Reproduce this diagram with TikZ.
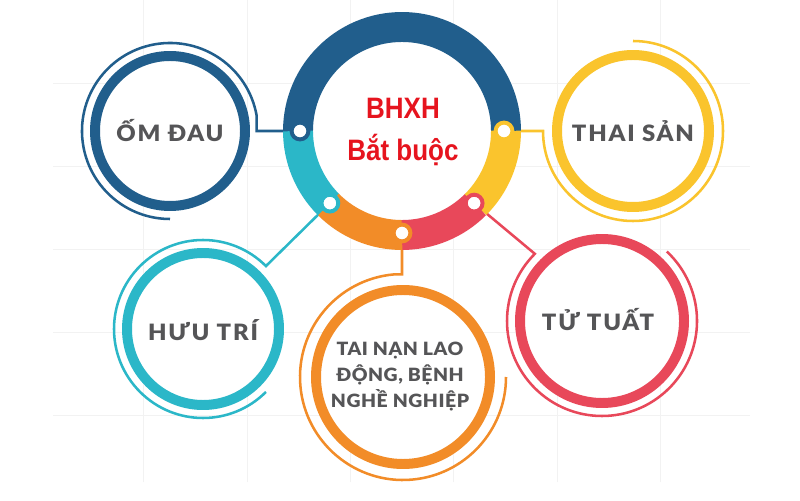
\documentclass[tikz,border=0pt]{standalone}
\usepackage{fontspec}
\usepackage{tikz}
\newfontfamily\labelfont{Lato}[BoldFont={* Black},FakeStretch=1.06,LetterSpace=3]
\newfontfamily\widefont{Lato}[BoldFont={* Black},FakeStretch=1.06,LetterSpace=8]
\newfontfamily\corefont{Liberation Sans}[FakeStretch=0.88]
\definecolor{omblue}{HTML}{215E8C}
\definecolor{huucyan}{HTML}{2BB7C8}
\definecolor{taiorg}{HTML}{F28C28}
\definecolor{tured}{HTML}{E8485A}
\definecolor{thaiyel}{HTML}{FAC42D}
\definecolor{txtgrey}{HTML}{555557}
\definecolor{bhxhred}{HTML}{E6141E}
\definecolor{gridc}{HTML}{F2F2F2}

\begin{document}
\begin{tikzpicture}[x=0.025cm,y=0.025cm,
    itemtxt/.style={font=\widefont\bfseries\fontsize{16pt}{18.5pt}\selectfont, text=txtgrey, align=center},
    smalltxt/.style={itemtxt, font=\labelfont\bfseries\fontsize{13pt}{18.5pt}\selectfont},
    coretxt/.style={font=\corefont\bfseries\fontsize{21pt}{24pt}\selectfont, text=bhxhred},
    ring/.style={line width=7.1pt, draw=#1, fill=white},
    seg/.style={line width=21.3pt},
    wire/.style={line width=1.8pt},
    hole/.style={circle, fill=white, draw=#1, line width=2.8pt, minimum size=0.42cm, inner sep=0pt}]
  \useasboundingbox[fill=white] (0,0) rectangle (800,500);
  \draw[gridc, line width=0.6pt] (53,417) -- (750,417) (53,334) -- (750,334) (53,251) -- (750,251)
    (53,168) -- (750,168) (53,85) -- (750,85)
    (143,18) -- (143,500) (247,18) -- (247,500) (350,18) -- (350,500)
    (453,18) -- (453,500) (557,18) -- (557,500) (660,18) -- (660,500);

  \coordinate (core) at (402,369);
  \coordinate (om) at (170,369);
  \coordinate (thai) at (633,369);
  \coordinate (huu) at (203,171);
  \coordinate (tai) at (403,123);
  \coordinate (tu) at (602,179);

  \coordinate (dL) at ([shift={(180:102)}]core);
  \coordinate (dR) at ([shift={(0:102)}]core);
  \coordinate (dC) at ([shift={(225:102)}]core);
  \coordinate (dO) at ([shift={(270:102)}]core);
  \coordinate (dT) at ([shift={(315:102)}]core);

  \coordinate (omS) at ([shift={(10:88)}]om);
  \coordinate (thaiS) at ([shift={(180:90)}]thai);
  \coordinate (huuS) at ([shift={(45:89)}]huu);
  \coordinate (taiS) at ([shift={(95:103)}]tai);
  \coordinate (tuS) at ([shift={(135:95)}]tu);

  \draw[wire, omblue] (dL) -| (omS) arc[start angle=10, end angle=270, radius=88];
  \draw[wire, thaiyel] (dR) -- (thaiS) arc[start angle=180, end angle=450, radius=90];
  \draw[wire, huucyan] (dC) -- (huuS) arc[start angle=45, end angle=315, radius=89];
  \draw[wire, taiorg] (dO) |- (taiS) arc[start angle=95, end angle=360, radius=103];
  \draw[wire, tured] (dT) -- (tuS) arc[start angle=135, end angle=407, radius=95];

  \draw[ring=omblue] (om) circle[radius=75];
  \draw[ring=thaiyel] (thai) circle[radius=76];
  \draw[ring=huucyan] (huu) circle[radius=76];
  \draw[ring=taiorg] (tai) circle[radius=87];
  \draw[ring=tured] (tu) circle[radius=82];

  \fill[white] (core) circle[radius=89];
  \draw[seg, omblue] ([shift={(0:104)}]core) arc[start angle=0, end angle=180, radius=104];
  \draw[seg, huucyan] ([shift={(180:104)}]core) arc[start angle=180, end angle=225, radius=104];
  \draw[seg, taiorg] ([shift={(225:104)}]core) arc[start angle=225, end angle=270, radius=104];
  \draw[seg, tured] ([shift={(270:104)}]core) arc[start angle=270, end angle=315, radius=104];
  \draw[seg, thaiyel] ([shift={(315:104)}]core) arc[start angle=315, end angle=360, radius=104];

  \node[hole=omblue] (hL) at (dL) {};
  \node[hole=thaiyel] (hR) at (dR) {};
  \node[hole=huucyan] (hC) at (dC) {};
  \node[hole=taiorg] (hO) at (dO) {};
  \node[hole=tured] (hT) at (dT) {};

  \node[coretxt] (bhxh) at (403,392) {BHXH};
  \node[coretxt] (batbuoc) at (403,350) {Bắt buộc};

  \node[itemtxt] (omtxt) at (om) {ỐM ĐAU};
  \node[itemtxt] (thaitxt) at (thai) {THAI SẢN};
  \node[itemtxt] (huutxt) at (203,170) {HƯU TRÍ};
  \node[smalltxt] (taitxt) at (400,123) {TAI NẠN LAO\\ĐỘNG, BỆNH\\NGHỀ NGHIỆP};
  \node[itemtxt] (tutxt) at (598,180) {TỬ TUẤT};
\end{tikzpicture}
\end{document}
